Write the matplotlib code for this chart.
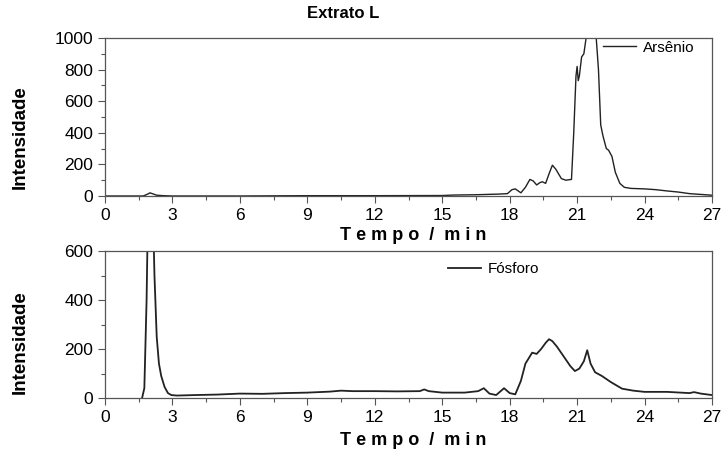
import matplotlib.pyplot as plt
from matplotlib.ticker import MultipleLocator

# Arsenio trace (top panel)
as_t = [0.0, 1.7, 1.9, 2.0, 2.1, 2.3, 2.6, 3.0, 6.0, 9.0, 12.0, 15.0, 15.5, 16.5, 17.5,
        17.9, 18.1, 18.25, 18.5, 18.7, 18.9, 19.05, 19.2, 19.35, 19.45, 19.6, 19.75, 19.9,
        20.05, 20.3, 20.5, 20.75, 20.85, 20.95, 21.0, 21.05, 21.1, 21.2, 21.3, 21.4, 21.5,
        21.8, 21.95, 22.05, 22.15, 22.3, 22.4, 22.55, 22.7, 22.9, 23.1, 23.4, 24.0, 24.5,
        25.0, 25.5, 26.0, 26.5, 27.0]
as_y = [0, 0, 12, 20, 15, 5, 2, 0, 0, 2, 2, 3, 6, 8, 12,
        15, 40, 45, 20, 55, 105, 95, 70, 85, 90, 80, 140, 195,
        170, 110, 100, 105, 400, 760, 820, 730, 760, 880, 900, 1000, 1100,
        1100, 800, 450, 380, 300, 290, 250, 150, 80, 55, 48, 45, 40,
        32, 25, 15, 10, 5]

# Fosforo trace (bottom panel)
p_t = [1.65, 1.75, 1.85, 1.9, 2.15, 2.2, 2.3, 2.4, 2.5, 2.65, 2.8, 2.95, 3.2, 4.0, 5.0,
       6.0, 7.0, 8.0, 9.0, 10.0, 10.5, 11.0, 12.0, 13.0, 14.0, 14.2, 14.4, 15.0, 16.0,
       16.6, 16.85, 17.1, 17.4, 17.75, 18.0, 18.25, 18.5, 18.7, 18.9, 19.0, 19.2, 19.4,
       19.6, 19.75, 19.9, 20.1, 20.4, 20.7, 20.9, 21.1, 21.3, 21.45, 21.6, 21.8, 22.1,
       22.5, 23.0, 23.5, 24.0, 25.0, 26.0, 26.2, 26.5, 27.0]
p_y = [0, 40, 400, 700, 700, 500, 250, 140, 90, 45, 20, 12, 10, 12, 14,
       18, 17, 20, 22, 26, 30, 28, 28, 27, 28, 35, 28, 22, 22,
       28, 40, 18, 12, 40, 20, 15, 70, 140, 170, 185, 180, 200,
       225, 240, 232, 210, 170, 130, 110, 120, 150, 195, 140, 105, 90,
       65, 38, 30, 25, 25, 20, 24, 18, 12]

fig = plt.figure(figsize=(7.25, 4.54), dpi=100)
ax1 = fig.add_axes([105 / 725, 1 - 196 / 454, 607 / 725, 158 / 454])
ax2 = fig.add_axes([105 / 725, 1 - 398 / 454, 607 / 725, 147 / 454])

fam = 'Liberation Sans'
xlab_font = dict(family=fam, size=13, weight='bold')
ylab_font = dict(family=fam, size=13.5, weight='bold')

for ax in (ax1, ax2):
    ax.set_xlim(0, 27)
    ax.xaxis.set_major_locator(MultipleLocator(3))
    ax.xaxis.set_minor_locator(MultipleLocator(1.5))
    ax.tick_params(which='major', direction='out', length=5, width=0.8, color='#555555')
    ax.tick_params(which='minor', direction='out', length=3, width=0.8, color='#555555')
    for s in ax.spines.values():
        s.set_color('#555555')
        s.set_linewidth(0.9)
    ax.set_xlabel('T e m p o  /  m i n', fontdict=xlab_font, va='center')
    ax.set_ylabel('Intensidade', fontdict=ylab_font, va='center')

ax1.plot(as_t, as_y, color='#222222', lw=1.0, label='Arsênio')
ax1.set_ylim(0, 1000)
ax1.yaxis.set_major_locator(MultipleLocator(200))
ax1.yaxis.set_minor_locator(MultipleLocator(100))
ax1.legend(loc='upper left', bbox_to_anchor=(0.797, 1.07), frameon=False, handlelength=2.2,
           handletextpad=0.45, prop=dict(family=fam, size=11))
ax1.xaxis.set_label_coords(0.507, -0.253)
ax1.yaxis.set_label_coords(-0.14, 0.373)

ax2.plot(p_t, p_y, color='#222222', lw=1.3, label='Fósforo')
ax2.set_ylim(0, 600)
ax2.yaxis.set_major_locator(MultipleLocator(200))
ax2.yaxis.set_minor_locator(MultipleLocator(100))
ax2.legend(loc='upper left', bbox_to_anchor=(0.542, 1.017), frameon=False, handlelength=2.2,
           handletextpad=0.45, prop=dict(family=fam, size=11))
ax2.xaxis.set_label_coords(0.507, -0.286)
ax2.yaxis.set_label_coords(-0.14, 0.381)

fig.text(343 / 725, 1 - 14 / 454, 'Extrato L', family=fam, size=12,
         weight='bold', ha='center', va='center')

for ax in (ax1, ax2):
    for lbl in ax.get_xticklabels() + ax.get_yticklabels():
        lbl.set_family(fam)
        lbl.set_fontsize(12.5)

fig.savefig('out.png', dpi=100)
